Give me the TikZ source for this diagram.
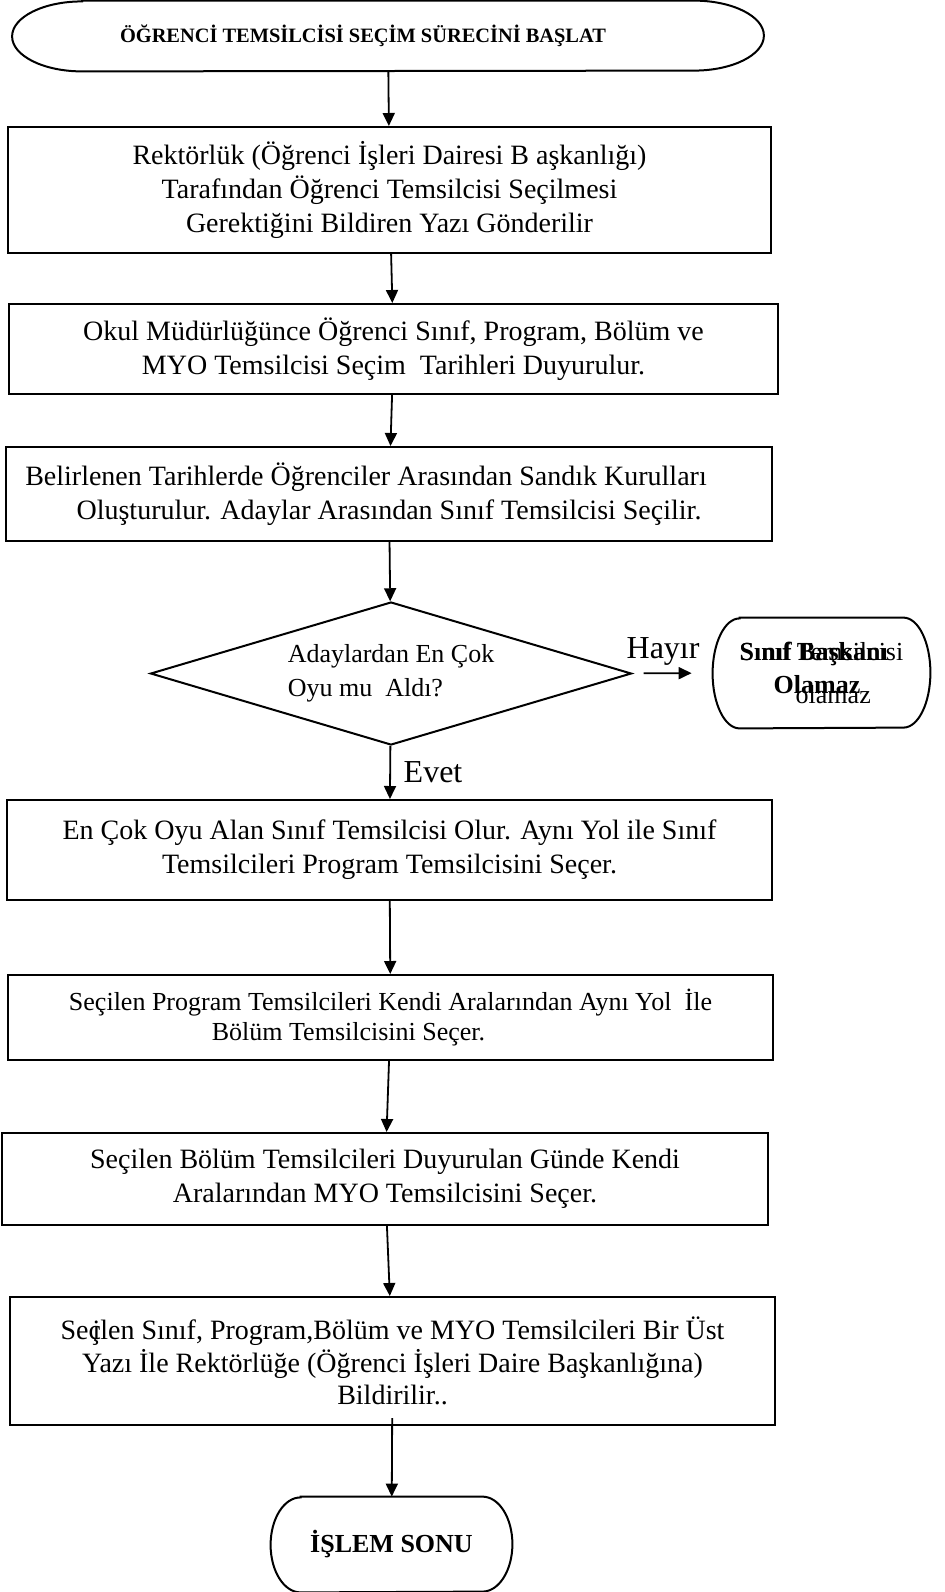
\documentclass[tikz,border=0pt]{standalone}
\usepackage{fontspec}
\setmainfont{Liberation Serif}
\usetikzlibrary{arrows.meta,shapes.geometric}
\tikzset{
  kutu/.style={draw, line width=1pt, inner sep=0pt, align=center, font=\fontsize{14}{17}\selectfont},
  karar/.style={draw, line width=1pt, diamond, aspect=3.36, inner sep=0pt, align=left, minimum width=240.5pt, minimum height=71.5pt, font=\fontsize{13}{17}\selectfont},
  uc/.style={inner sep=0pt, font=\fontsize{13}{16.5}\selectfont},
  ok/.style={-{Triangle[width=6pt,length=6.5pt]}, line width=0.9pt},
  etiket/.style={font=\fontsize{16}{19}\selectfont},
}
\newcommand\kapsul[3]{\draw[line width=1pt] ([xshift=#2]#1.north west) -- ([xshift=-#2]#1.north east)
  arc[start angle=90, end angle=-90, x radius=#2, y radius=#3] -- ([xshift=#2]#1.south west)
  arc[start angle=270, end angle=90, x radius=#2, y radius=#3] -- cycle;}
\begin{document}
\begin{tikzpicture}[x=0.5pt, y=-0.5pt]
\useasboundingbox (0,0) rectangle (944,1592);
\node[uc, minimum width=375.5pt, minimum height=35pt, font=\fontsize{10.2}{12}\selectfont\bfseries] (basla) at (388,36) {\raisebox{1.5pt}{ÖĞRENCİ TEMSİLCİSİ SEÇİM SÜRECİNİ BAŞLAT}\kern25pt};
\kapsul{basla}{35pt}{17.5pt}
\node[kutu, minimum width=381.5pt, minimum height=63pt] (rektor) at (389.5,190) {Rektörlük (Öğrenci İşleri Dairesi B aşkanlığı)\\Tarafından Öğrenci Temsilcisi Seçilmesi\\Gerektiğini Bildiren Yazı Gönderilir};
\node[kutu, minimum width=384.5pt, minimum height=45pt] (okul) at (393.5,349) {Okul Müdürlüğünce Öğrenci Sınıf, Program, Bölüm ve\\MYO Temsilcisi Seçim\ \ Tarihleri Duyurulur.};
\node[kutu, minimum width=383pt, minimum height=47pt] (sandik) at (389,494) {Belirlenen Tarihlerde Öğrenciler Arasından Sandık Kurulları\hspace*{23pt}\\Oluşturulur. Adaylar Arasından Sınıf Temsilcisi Seçilir.};
\node[karar] (aday) at (391,673.5) {Adaylardan En Çok\\Oyu mu\ \ Aldı?};
\node[uc, minimum width=108.5pt, minimum height=55pt, align=left] (olamaz) at (821.5,673) {\rlap{\bfseries Sınıf Başkanı}Sınıf Temsilcisi\\\hspace*{17pt}\rlap{\bfseries Olamaz}\hspace{11pt}\raisebox{-5pt}{olamaz}};
\kapsul{olamaz}{13.5pt}{27.5pt}
\node[kutu, minimum width=382.5pt, minimum height=50pt] (oyu) at (389.5,850) {En Çok Oyu Alan Sınıf Temsilcisi Olur. Aynı Yol ile Sınıf\\Temsilcileri Program Temsilcisini Seçer.};
\node[kutu, minimum width=382.5pt, minimum height=42.5pt, font=\fontsize{13}{15.2}\selectfont] (program) at (390.5,1017.5) {Seçilen Program Temsilcileri Kendi Aralarından Aynı Yol\ \ İle\\Bölüm Temsilcisini Seçer.\hspace*{42pt}};
\node[kutu, minimum width=383pt, minimum height=46pt] (bolum) at (385,1179) {Seçilen Bölüm Temsilcileri Duyurulan Günde Kendi\\Aralarından MYO Temsilcisini Seçer.};
\node[kutu, minimum width=382.5pt, minimum height=64pt, font=\fontsize{14}{16.3}\selectfont] (myo) at (392.5,1361) {Seç\kern-0.3em ilen Sınıf, Program,Bölüm ve MYO Temsilcileri Bir Üst\\Yazı İle Rektörlüğe (Öğrenci İşleri Daire Başkanlığına)\\Bildirilir..};
\node[uc, minimum width=120.5pt, minimum height=47.5pt, font=\fontsize{13}{16.5}\selectfont\bfseries] (son) at (391.5,1544.5) {İŞLEM SONU};
\kapsul{son}{15pt}{23.75pt}
\draw[ok] (basla) -- (rektor);
\draw[ok] (rektor) -- (okul);
\draw[ok] (okul) -- (sandik);
\draw[ok] (sandik) -- (aday);
\draw[ok] (aday) -- node[etiket, right, xshift=3pt] {Evet} (oyu);
\draw[ok, shorten <=6pt, shorten >=10.5pt] (aday) -- node[etiket, above, xshift=-4.5pt] {Hayır} (olamaz);
\draw[ok] (oyu) -- (program);
\draw[ok] (program) -- (bolum);
\draw[ok] (bolum) -- (myo);
\draw[ok, shorten <=-4pt] (myo) -- (son);
\end{tikzpicture}
\end{document}
